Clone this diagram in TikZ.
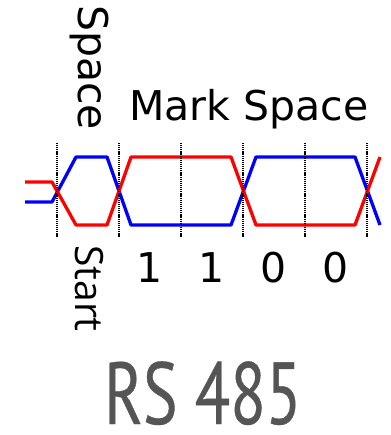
\documentclass[tikz,border=0pt]{standalone}
\usepackage{fontspec}
\setmainfont{DejaVu Sans}
\newfontfamily\startfont{Open Sans}
\newfontfamily\titlefont[FakeStretch=0.74,FakeBold=0.4]{PT Sans}
\usetikzlibrary{positioning,calc}
\definecolor{lineA}{RGB}{255,0,0}
\definecolor{lineB}{RGB}{0,0,255}
\definecolor{titlegray}{RGB}{85,85,85}

\begin{document}
\begin{tikzpicture}[x=1pt,y=-1pt,
    wave/.style={line width=3.3pt, line join=round},
    bitline/.style={line width=1.6pt, dash pattern=on 1.2pt off 0.9pt},
    big/.style={font=\fontsize{41}{41}\selectfont, inner sep=0pt}]
    \useasboundingbox (0,0) rectangle (390,435);

    % bit boundaries
    \coordinate (b0) at (57,143);
    \coordinate (b1) at (119,143);
    \coordinate (b2) at (181,143);
    \coordinate (b3) at (243,143);
    \coordinate (b4) at (305,143);
    \coordinate (b5) at (367,143);

    % the two wires
    \draw[wave, lineB] (25,202) -- (52,202) -- (76,157) -- (107,157) -- (131,225)
        -- (231,225) -- (256,157) -- (355,157) -- (380,225);
    \draw[wave, lineA] (25,182) -- (52,182) -- (76,225) -- (107,225) -- (131,157)
        -- (231,157) -- (256,225) -- (355,225) -- (380,157);

    \draw[bitline] (b0) -- ++(0,94);
    \draw[bitline] (b1) -- ++(0,94);
    \draw[bitline] (b2) -- ++(0,94);
    \draw[bitline] (b3) -- ++(0,94);
    \draw[bitline] (b4) -- ++(0,94);
    \draw[bitline] (b5) -- ++(0,94);

    % labels
    \node[big, rotate=-90, anchor=base west] (space0) at (78,5) {Space};
    \node[big, anchor=base west] (marks) at (129,121) {Mark Space};
    \node[font=\startfont\fontsize{39}{39}\selectfont, inner sep=0pt, rotate=-90, anchor=base west] (start) at (75,245) {Start};

    \node[big, anchor=base] (d1) at (150,282) {1};
    \node[big, anchor=base] (d2) at (212,282) {1};
    \node[big, anchor=base] (d3) at (274,282) {0};
    \node[big, anchor=base] (d4) at (336,282) {0};

    \node[font=\titlefont\fontsize{88}{88}\selectfont, text=titlegray, inner sep=0pt, text depth=0pt, anchor=base west] (title) at (104,424) {RS 485};
\end{tikzpicture}
\end{document}
